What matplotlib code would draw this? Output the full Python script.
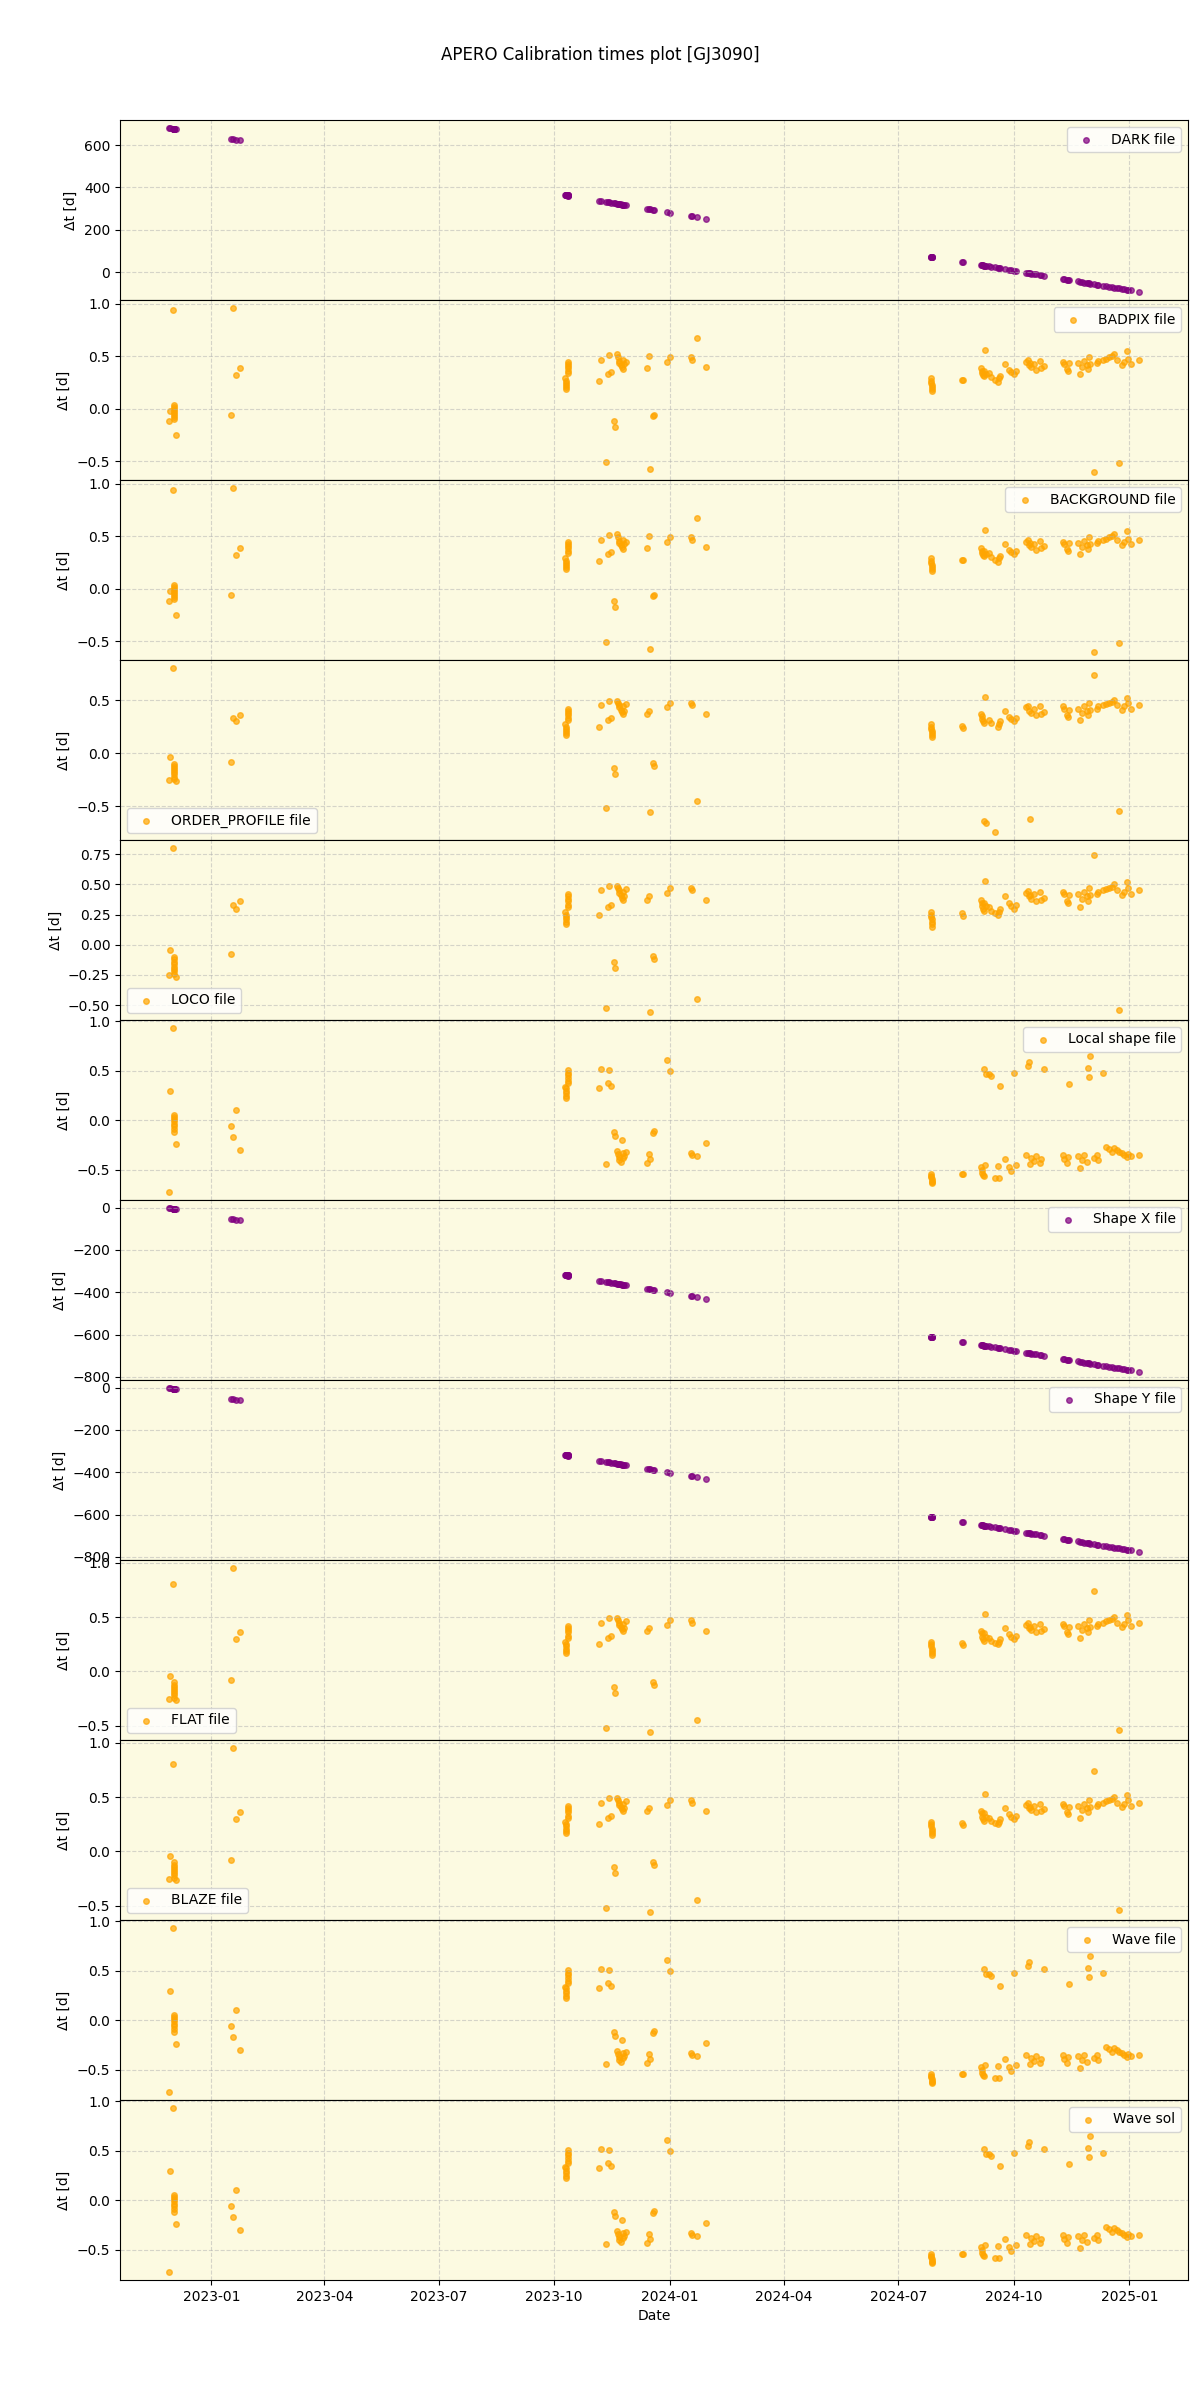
# APERO calibration times plot for GJ3090
# one panel per calibration file type, time offset vs observation date
import matplotlib.pyplot as plt
import matplotlib.dates as mdates
import pandas as pd

# observation dates (same for every panel)
obs_dates = pd.to_datetime([
    '2022-11-28 00:00', '2022-11-29 12:00', '2022-12-01 12:00',
    '2022-12-02 00:00', '2022-12-02 01:00', '2022-12-02 02:00', '2022-12-02 03:00',
    '2022-12-02 04:00', '2022-12-02 05:00', '2022-12-02 06:00', '2022-12-02 07:00',
    '2022-12-04 00:00',
    '2023-01-17 00:00', '2023-01-18 12:00', '2023-01-20 22:00', '2023-01-24 00:00',
    '2023-10-10 00:00', '2023-10-10 02:00', '2023-10-10 04:00', '2023-10-10 06:00',
    '2023-10-10 08:00', '2023-10-10 10:00',
    '2023-10-12 00:00', '2023-10-12 02:00', '2023-10-12 04:00', '2023-10-12 06:00',
    '2023-10-12 08:00', '2023-10-12 10:00',
    '2023-11-06 00:00', '2023-11-07 00:00', '2023-11-11 00:00', '2023-11-13 00:00',
    '2023-11-14 00:00', '2023-11-15 00:00', '2023-11-18 00:00', '2023-11-18 12:00',
    '2023-11-20 00:00', '2023-11-21 00:00', '2023-11-21 12:00', '2023-11-22 00:00',
    '2023-11-23 00:00', '2023-11-24 00:00', '2023-11-24 12:00', '2023-11-25 00:00',
    '2023-11-26 00:00', '2023-11-27 00:00',
    '2023-12-14 00:00', '2023-12-15 12:00', '2023-12-16 00:00', '2023-12-19 00:00',
    '2023-12-19 12:00',
    '2023-12-30 00:00', '2024-01-01 00:00', '2024-01-18 00:00', '2024-01-19 00:00',
    '2024-01-23 00:00', '2024-01-30 00:00',
    '2024-07-27 00:00', '2024-07-27 04:00', '2024-07-27 08:00', '2024-07-27 12:00',
    '2024-07-27 16:00', '2024-07-27 20:00', '2024-07-28 00:00',
    '2024-08-21 00:00', '2024-08-21 12:00',
    '2024-09-05 00:00', '2024-09-05 12:00', '2024-09-06 00:00', '2024-09-06 12:00',
    '2024-09-07 00:00',
    '2024-09-07 12:00', '2024-09-08 00:00', '2024-09-08 12:00',
    '2024-09-11 00:00', '2024-09-13 00:00', '2024-09-16 00:00', '2024-09-18 00:00',
    '2024-09-19 00:00', '2024-09-20 00:00',
    '2024-09-24 00:00',
    '2024-09-27 00:00', '2024-09-29 00:00', '2024-10-01 00:00', '2024-10-03 00:00',
    '2024-10-11 00:00', '2024-10-12 00:00', '2024-10-13 00:00', '2024-10-14 00:00',
    '2024-10-15 00:00', '2024-10-17 00:00', '2024-10-19 00:00', '2024-10-22 00:00',
    '2024-10-23 00:00', '2024-10-25 00:00',
    '2024-11-09 00:00', '2024-11-10 00:00', '2024-11-12 00:00', '2024-11-13 00:00',
    '2024-11-14 00:00',
    '2024-11-21 00:00', '2024-11-23 00:00', '2024-11-24 00:00', '2024-11-26 00:00',
    '2024-11-28 00:00', '2024-11-29 00:00', '2024-11-30 00:00', '2024-12-01 00:00',
    '2024-12-04 00:00',
    '2024-12-06 00:00', '2024-12-07 00:00', '2024-12-11 00:00', '2024-12-13 00:00',
    '2024-12-16 00:00', '2024-12-18 00:00', '2024-12-20 00:00', '2024-12-22 00:00',
    '2024-12-24 00:00',
    '2024-12-26 00:00', '2024-12-28 00:00', '2024-12-30 00:00', '2024-12-31 00:00',
    '2025-01-02 00:00',
    '2025-01-09 00:00',
])

# time offsets in days
dark_dt = [680, 678.5, 676.5, 676, 676, 676, 676, 676, 675.5, 675.5, 675.5, 674,
           630, 628.5, 626, 623,
           364, 364, 364, 364, 363.5, 363.5, 362, 362, 362, 362, 361.5, 361.5,
           337, 336, 332, 330, 329, 328, 325, 324.5,
           323, 322, 321.5, 321, 320, 319, 318.5, 318, 317, 316,
           299, 297.5, 297, 294, 293.5,
           283, 281, 264, 263, 259, 252,
           73, 73, 73, 72.5, 72.5, 72, 72, 48, 47.5,
           33, 32.5, 32, 31.5, 31, 30.5, 30, 29.5,
           27, 25, 22, 20, 19, 18, 14, 11, 9, 7, 5,
           -3, -4, -5, -6, -7, -9, -11, -14, -15, -17,
           -32, -33, -35, -36, -37,
           -44, -46, -47, -49, -51, -52, -53, -54, -57,
           -59, -60, -64, -66, -69, -71, -73, -75, -77,
           -79, -81, -83, -84, -86, -93]

shape_dt = [-3, -4.5, -6.5, -7, -7, -7, -7, -7, -7.5, -7.5, -7.5, -9,
            -53, -54.5, -57, -60,
            -319, -319, -319, -319, -319.5, -319.5, -321, -321, -321, -321, -321.5, -321.5,
            -346, -347, -351, -353, -354, -355, -358, -358.5,
            -360, -361, -361.5, -362, -363, -364, -364.5, -365, -366, -367,
            -384, -385.5, -386, -389, -389.5,
            -400, -402, -419, -420, -424, -431,
            -610, -610, -610, -610.5, -610.5, -611, -611, -635, -635.5,
            -650, -650.5, -651, -651.5, -652, -652.5, -653, -653.5,
            -656, -658, -661, -663, -664, -665, -669, -672, -674, -676, -678,
            -686, -687, -688, -689, -690, -692, -694, -697, -698, -700,
            -715, -716, -718, -719, -720,
            -727, -729, -730, -732, -734, -735, -736, -737, -740,
            -742, -743, -747, -749, -752, -754, -756, -758, -760,
            -762, -764, -766, -767, -769, -776]

badpix_dt = [-0.115, -0.02, 0.94, 0.04, 0.02, 0.00, -0.02, -0.04, -0.06, -0.08, -0.10, -0.245,
             -0.06, 0.96, 0.32, 0.386,
             0.29, 0.27, 0.25, 0.23, 0.21, 0.19, 0.45, 0.43, 0.41, 0.39, 0.36, 0.34,
             0.27, 0.47, -0.51, 0.33, 0.51, 0.35, -0.12, -0.17,
             0.52, 0.49, 0.46, 0.44, 0.42, 0.40, 0.38, 0.47, 0.43, 0.45,
             0.39, 0.50, -0.57, -0.07, -0.06,
             0.45, 0.495, 0.49, 0.47, 0.675, 0.395,
             0.29, 0.27, 0.25, 0.23, 0.21, 0.19, 0.175, 0.28, 0.28,
             0.39, 0.36, 0.34, 0.32, 0.31, 0.36, 0.56, 0.33,
             0.34, 0.30, 0.28, 0.26, 0.29, 0.31, 0.43, 0.37, 0.35, 0.33, 0.36,
             0.45, 0.47, 0.42, 0.44, 0.40, 0.43, 0.37, 0.46, 0.39, 0.41,
             0.45, 0.43, 0.38, 0.36, 0.44,
             0.44, 0.33, 0.40, 0.46, 0.42, 0.38, 0.49, 0.43, -0.60,
             0.44, 0.46, 0.47, 0.48, 0.49, 0.50, 0.52, 0.47, -0.52,
             0.42, 0.45, 0.55, 0.48, 0.43, 0.47]

order_dt = [-0.25, -0.04, 0.80, -0.10, -0.12, -0.14, -0.16, -0.18, -0.20, -0.22, -0.24, -0.265,
            -0.08, 0.33, 0.30, 0.36,
            0.27, 0.25, 0.23, 0.21, 0.19, 0.17, 0.42, 0.40, 0.38, 0.36, 0.33, 0.31,
            0.25, 0.45, -0.52, 0.31, 0.49, 0.33, -0.14, -0.195,
            0.49, 0.47, 0.45, 0.43, 0.41, 0.39, 0.37, 0.44, 0.40, 0.46,
            0.37, 0.40, -0.555, -0.095, -0.12,
            0.43, 0.47, 0.47, 0.45, -0.45, 0.37,
            0.27, 0.25, 0.23, 0.21, 0.19, 0.17, 0.15, 0.26, 0.24,
            0.37, 0.35, 0.32, 0.30, 0.28, -0.64, 0.53, -0.66,
            0.31, 0.28, -0.74, 0.25, 0.27, 0.30, 0.40, 0.345, 0.32, 0.30, 0.33,
            0.43, 0.445, 0.40, -0.62, 0.38, 0.42, 0.36, 0.44, 0.37, 0.39,
            0.44, 0.42, 0.36, 0.345, 0.41,
            0.42, 0.31, 0.38, 0.44, 0.40, 0.36, 0.47, 0.41, 0.74,
            0.42, 0.44, 0.45, 0.46, 0.47, 0.48, 0.50, 0.45, -0.54,
            0.41, 0.44, 0.52, 0.47, 0.42, 0.45]

loco_dt = [-0.25, -0.04, 0.80, -0.10, -0.12, -0.14, -0.16, -0.18, -0.20, -0.22, -0.24, -0.265,
           -0.08, 0.33, 0.30, 0.36,
           0.27, 0.25, 0.23, 0.21, 0.19, 0.17, 0.42, 0.40, 0.38, 0.36, 0.33, 0.31,
           0.25, 0.45, -0.52, 0.31, 0.49, 0.33, -0.14, -0.195,
           0.49, 0.47, 0.45, 0.43, 0.41, 0.39, 0.37, 0.44, 0.40, 0.46,
           0.37, 0.40, -0.555, -0.095, -0.12,
           0.43, 0.47, 0.47, 0.45, -0.45, 0.37,
           0.27, 0.25, 0.23, 0.21, 0.19, 0.17, 0.15, 0.26, 0.24,
           0.37, 0.35, 0.32, 0.30, 0.28, 0.35, 0.53, 0.32,
           0.31, 0.28, 0.26, 0.25, 0.27, 0.30, 0.40, 0.345, 0.32, 0.30, 0.33,
           0.43, 0.445, 0.40, 0.41, 0.38, 0.42, 0.36, 0.44, 0.37, 0.39,
           0.44, 0.42, 0.36, 0.345, 0.41,
           0.42, 0.31, 0.38, 0.44, 0.40, 0.36, 0.47, 0.41, 0.74,
           0.42, 0.44, 0.45, 0.46, 0.47, 0.48, 0.50, 0.45, -0.54,
           0.41, 0.44, 0.52, 0.47, 0.42, 0.45]

flat_dt = [-0.25, -0.04, 0.80, -0.10, -0.12, -0.14, -0.16, -0.18, -0.20, -0.22, -0.24, -0.265,
           -0.08, 0.95, 0.30, 0.36,
           0.27, 0.25, 0.23, 0.21, 0.19, 0.17, 0.42, 0.40, 0.38, 0.36, 0.33, 0.31,
           0.25, 0.45, -0.52, 0.31, 0.49, 0.33, -0.14, -0.195,
           0.49, 0.47, 0.45, 0.43, 0.41, 0.39, 0.37, 0.44, 0.40, 0.46,
           0.37, 0.40, -0.555, -0.095, -0.12,
           0.43, 0.47, 0.47, 0.45, -0.45, 0.37,
           0.27, 0.25, 0.23, 0.21, 0.19, 0.17, 0.15, 0.26, 0.24,
           0.37, 0.35, 0.32, 0.30, 0.28, 0.35, 0.53, 0.32,
           0.31, 0.28, 0.26, 0.25, 0.27, 0.30, 0.40, 0.345, 0.32, 0.30, 0.33,
           0.43, 0.445, 0.40, 0.41, 0.38, 0.42, 0.36, 0.44, 0.37, 0.39,
           0.44, 0.42, 0.36, 0.345, 0.41,
           0.42, 0.31, 0.38, 0.44, 0.40, 0.36, 0.47, 0.41, 0.74,
           0.42, 0.44, 0.45, 0.46, 0.47, 0.48, 0.50, 0.45, -0.54,
           0.41, 0.44, 0.52, 0.47, 0.42, 0.45]

wave_dt = [-0.725, 0.29, 0.93, 0.05, 0.03, 0.01, -0.01, -0.04, -0.06, -0.09, -0.12, -0.24,
           -0.06, -0.17, 0.105, -0.30,
           0.34, 0.32, 0.29, 0.27, 0.24, 0.22, 0.51, 0.48, 0.46, 0.43, 0.40, 0.38,
           0.33, 0.52, -0.44, 0.38, 0.51, 0.35, -0.12, -0.16,
           -0.31, -0.34, -0.37, -0.40, -0.42, -0.20, -0.33, -0.38, -0.36, -0.32,
           -0.43, -0.34, -0.39, -0.13, -0.11,
           0.61, 0.50, -0.33, -0.35, -0.36, -0.23,
           -0.54, -0.56, -0.58, -0.60, -0.62, -0.63, -0.64, -0.545, -0.54,
           -0.47, -0.50, -0.53, -0.55, -0.565, 0.515, -0.45, 0.47,
           0.47, 0.445, -0.585, -0.465, -0.585, 0.35, -0.39, -0.47, -0.51, 0.475, -0.45,
           -0.35, 0.55, 0.59, -0.44, -0.38, -0.41, -0.36, -0.43, -0.39, 0.515,
           -0.35, -0.39, -0.43, -0.37, 0.37,
           -0.36, -0.48, -0.40, -0.35, -0.42, 0.53, 0.44, 0.65, -0.38,
           -0.355, -0.405, 0.475, -0.27, -0.29, -0.32, -0.28, -0.30, -0.32,
           -0.33, -0.35, -0.37, -0.34, -0.36, -0.35]

# (label, data, colour, legend position)
panels = [
    ('DARK file', dark_dt, 'purple', 'upper right'),
    ('BADPIX file', badpix_dt, 'orange', 'upper right'),
    ('BACKGROUND file', badpix_dt, 'orange', 'upper right'),
    ('ORDER_PROFILE file', order_dt, 'orange', 'lower left'),
    ('LOCO file', loco_dt, 'orange', 'lower left'),
    ('Local shape file', wave_dt, 'orange', 'upper right'),
    ('Shape X file', shape_dt, 'purple', 'upper right'),
    ('Shape Y file', shape_dt, 'purple', 'upper right'),
    ('FLAT file', flat_dt, 'orange', 'lower left'),
    ('BLAZE file', flat_dt, 'orange', 'lower left'),
    ('Wave file', wave_dt, 'orange', 'upper right'),
    ('Wave sol', wave_dt, 'orange', 'upper right'),
]

fig, axes = plt.subplots(len(panels), 1, figsize=(12, 24), sharex=True)
fig.subplots_adjust(left=0.1, right=0.99, top=0.95, bottom=0.05, hspace=0)

for ax, (label, vals, col, loc) in zip(axes, panels):
    ax.scatter(obs_dates, vals, s=16, color=col, alpha=0.7, label=label)
    ax.set_facecolor('#fcfae1')
    ax.grid(True, linestyle='--', alpha=0.5)
    ax.set_ylabel('Δt [d]')
    ax.legend(loc=loc)

axes[-1].xaxis.set_major_locator(mdates.MonthLocator(bymonth=[1, 4, 7, 10]))
axes[-1].xaxis.set_major_formatter(mdates.DateFormatter('%Y-%m'))
axes[-1].set_xlabel('Date')

fig.suptitle('APERO Calibration times plot [GJ3090]', y=0.981)
fig.savefig('out.png', dpi=100)
